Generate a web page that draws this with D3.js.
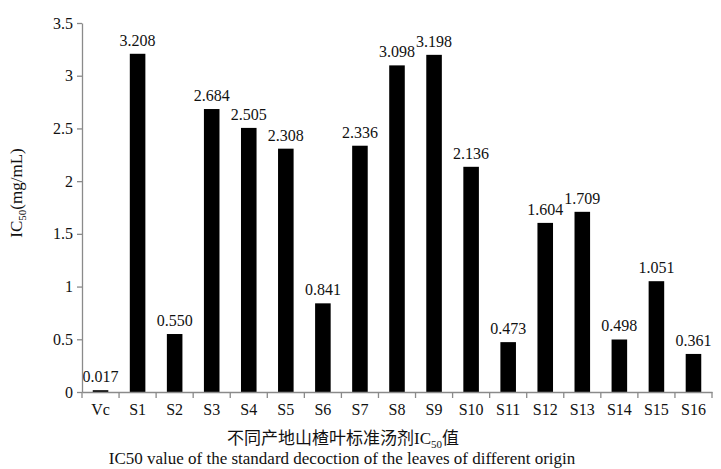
<!DOCTYPE html>
<html><head><meta charset="utf-8">
<script src="https://cdn.jsdelivr.net/npm/d3@7"></script>
<style>body{margin:0;background:#fff}</style>
</head><body>
<svg id="c" width="721" height="469"></svg>
<script>
const categories = ["Vc","S1","S2","S3","S4","S5","S6","S7","S8","S9","S10","S11","S12","S13","S14","S15","S16"];
const values = [0.017,3.208,0.550,2.684,2.505,2.308,0.841,2.336,3.098,3.198,2.136,0.473,1.604,1.709,0.498,1.051,0.361];
const yTicks = [0,0.5,1,1.5,2,2.5,3,3.5];
const yTickLabels = ["0","0.5","1","1.5","2","2.5","3","3.5"];

const svg = d3.select("#c");
const serif = "'Liberation Serif','Times New Roman',serif";
const x = d3.scaleBand().domain(categories).range([82,712]).paddingInner(0.58).paddingOuter(0.29);
const y = d3.scaleLinear().domain([0,3.5]).range([392,23]);
const axisColor = "#8a8a8a";

svg.selectAll("rect.bar").data(values).enter().append("rect")
  .attr("x",(d,i)=>x(categories[i])).attr("width",x.bandwidth())
  .attr("y",d=>y(d)).attr("height",d=>y(0)-y(d)).attr("fill","#000");

svg.selectAll("text.val").data(values).enter().append("text")
  .attr("x",(d,i)=>x(categories[i])+x.bandwidth()/2).attr("y",d=>y(d)-8)
  .attr("text-anchor","middle").attr("font-family",serif).attr("font-size",16)
  .attr("fill","#111").text(d=>d.toFixed(3));

// y axis
const ya = svg.append("g").attr("transform","translate(82,0)")
  .call(d3.axisLeft(y).tickValues(yTicks).tickFormat((d,i)=>yTickLabels[i]).tickSize(5).tickSizeOuter(0));
ya.select(".domain").attr("stroke",axisColor).attr("stroke-width",1.3);
ya.selectAll(".tick line").attr("stroke",axisColor).attr("stroke-width",1.3);
ya.selectAll(".tick text").attr("font-family",serif).attr("font-size",16).attr("fill","#111").attr("x",-9);

// x axis
const xa = svg.append("g").attr("transform","translate(0,392)")
  .call(d3.axisBottom(x).tickSize(0).tickSizeOuter(0));
xa.select(".domain").attr("stroke",axisColor).attr("stroke-width",1.3);
xa.selectAll(".tick text").attr("font-family",serif).attr("font-size",16).attr("fill","#111").attr("y",12);
const step = x.step();
const bounds = d3.range(categories.length+1).map(i=>82+i*step);
xa.selectAll("line.sep").data(bounds).enter().append("line").attr("class","sep")
  .attr("x1",d=>d).attr("x2",d=>d).attr("y1",0).attr("y2",6)
  .attr("stroke",axisColor).attr("stroke-width",1.3);

// y label
const yl = svg.append("text").attr("transform","translate(22,193) rotate(-90)")
  .attr("text-anchor","middle").attr("font-family",serif).attr("font-size",17).attr("fill","#111");
yl.append("tspan").text("IC");
yl.append("tspan").attr("font-size",11).attr("dy",4).text("50");
yl.append("tspan").attr("dy",-4).text("(mg/mL)");

// x labels
const xl = svg.append("text").attr("x",343).attr("y",444).attr("text-anchor","middle")
  .attr("font-family","'Noto Sans CJK SC',"+serif).attr("font-size",17).attr("fill","#111");
xl.append("tspan").text("不同产地山楂叶标准汤剂");
xl.append("tspan").attr("font-family",serif).text("IC");
xl.append("tspan").attr("font-family",serif).attr("font-size",11).attr("dy",4).text("50");
xl.append("tspan").attr("dy",-4).text("值");

svg.append("text").attr("x",342).attr("y",464).attr("text-anchor","middle")
  .attr("font-family",serif).attr("font-size",17).attr("fill","#111")
  .text("IC50 value of the standard decoction of the leaves of different origin");
</script>
</body></html>
